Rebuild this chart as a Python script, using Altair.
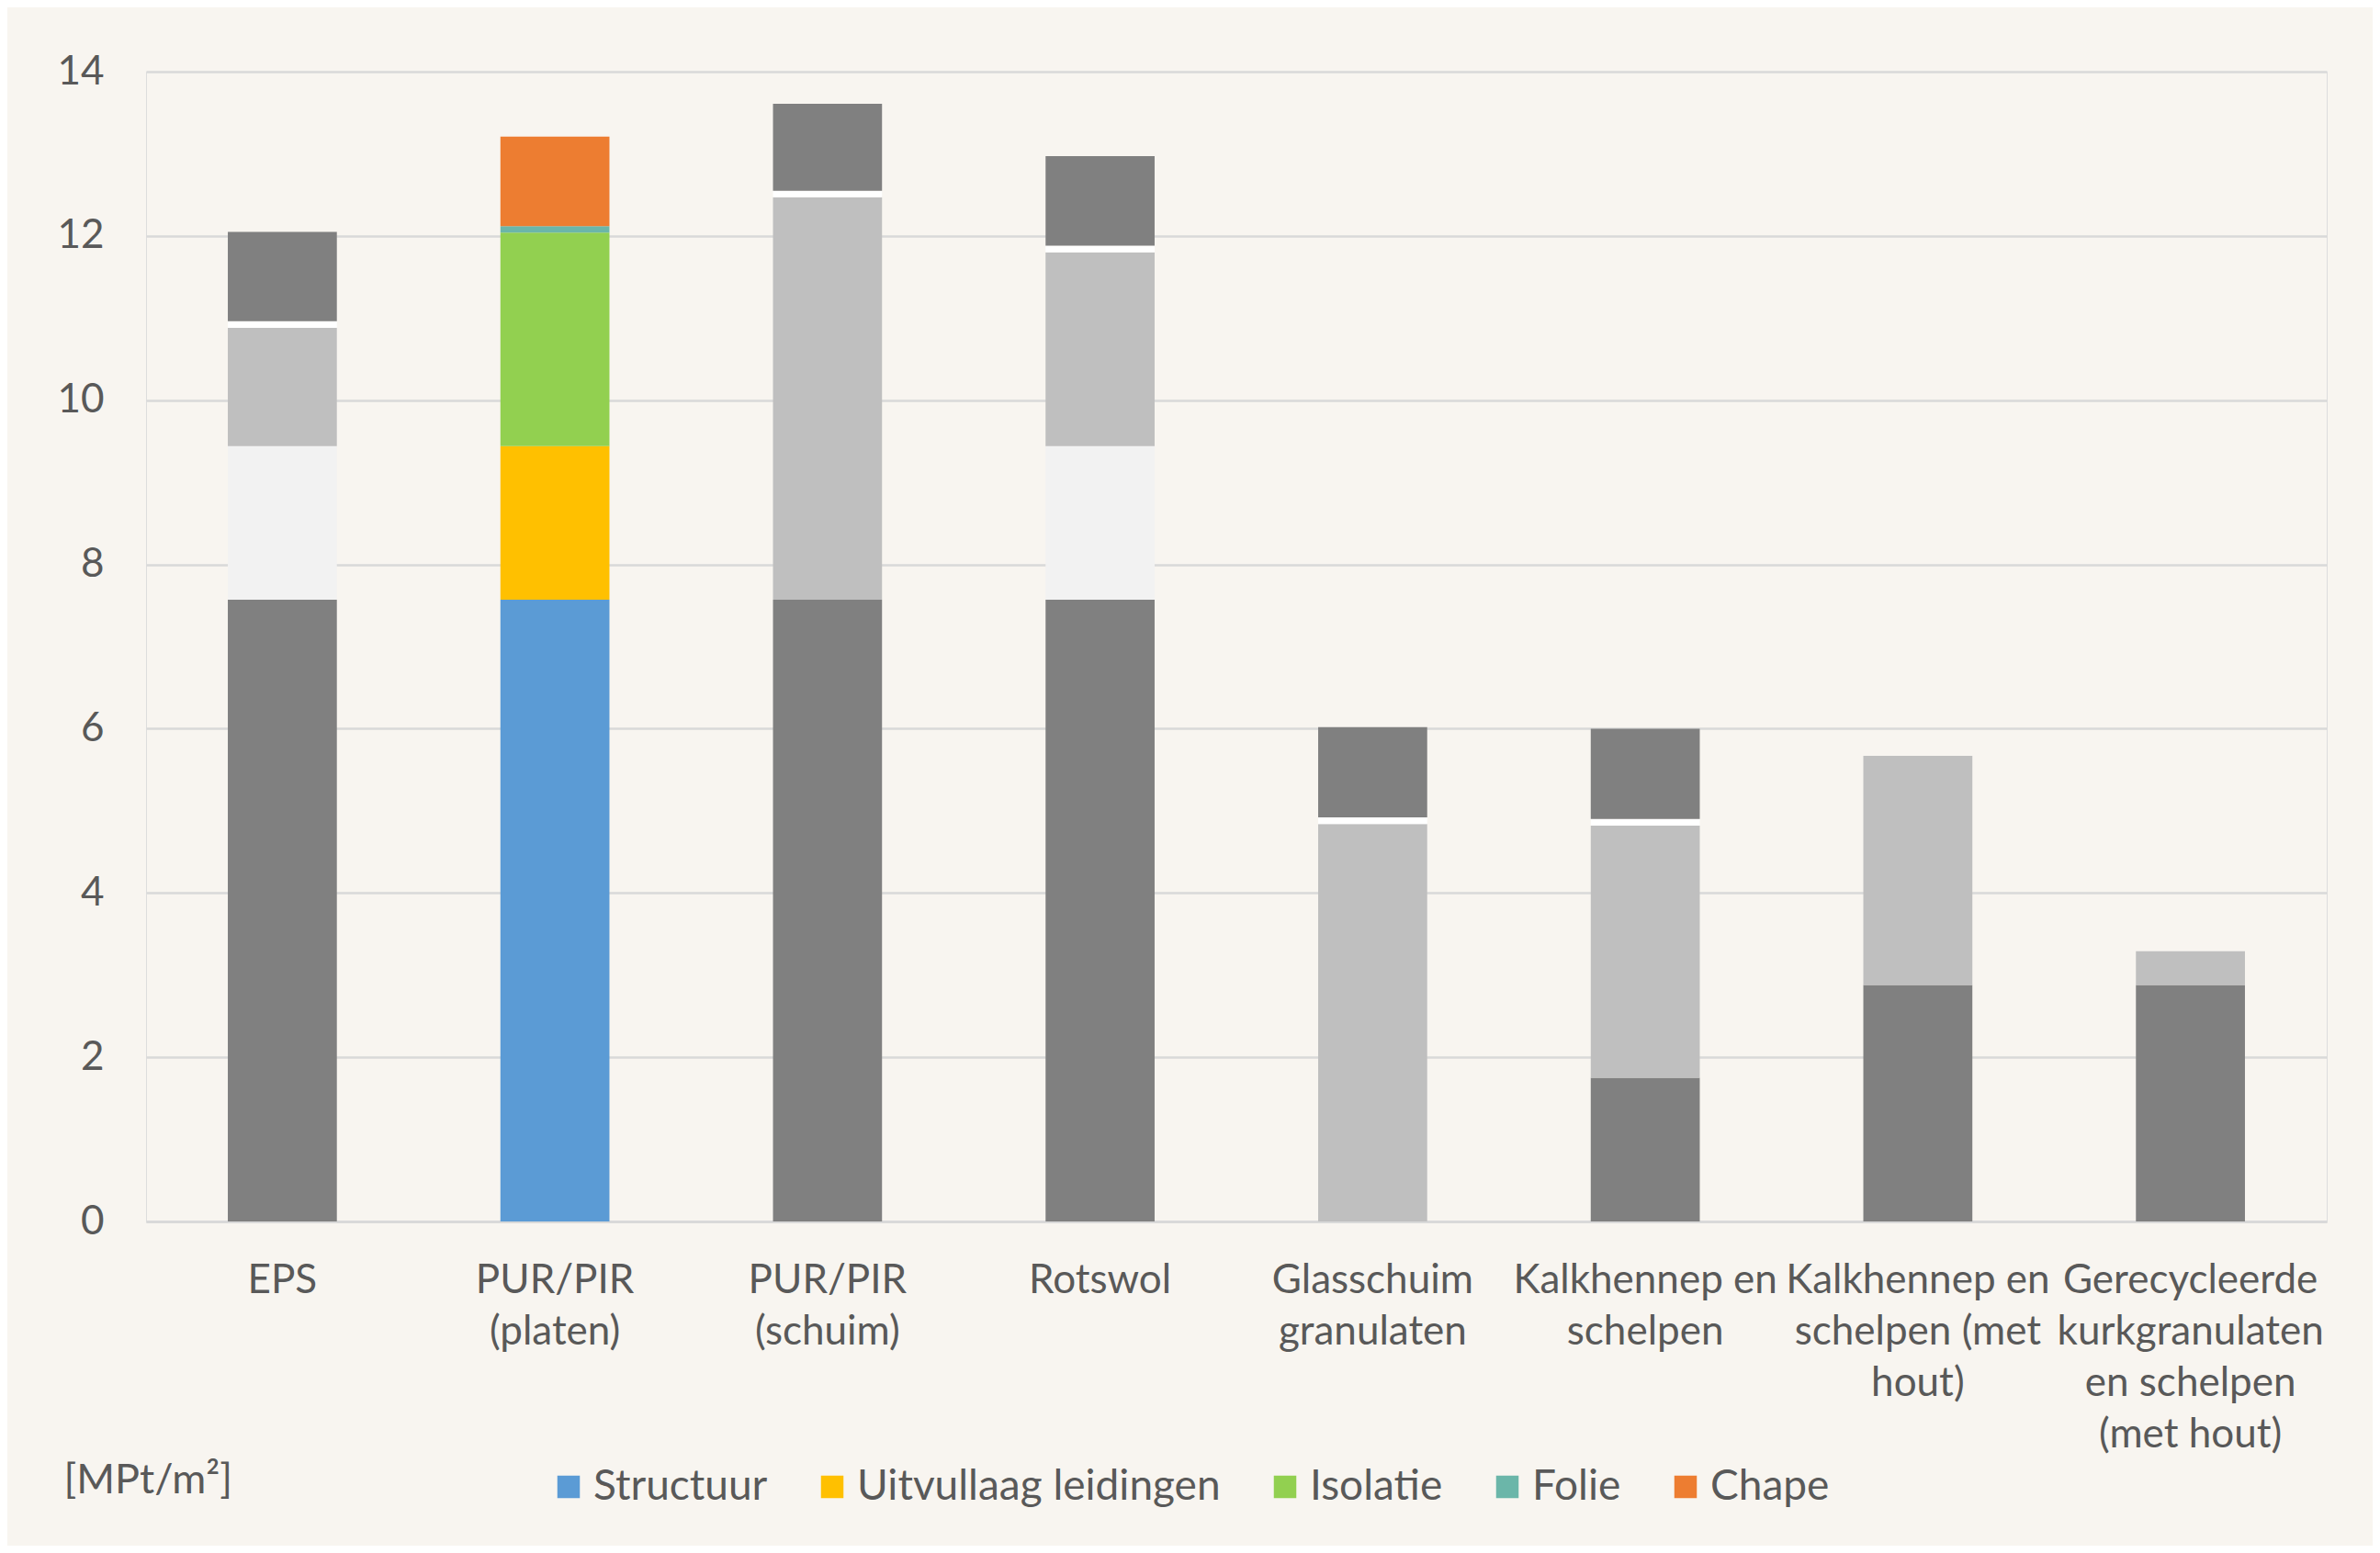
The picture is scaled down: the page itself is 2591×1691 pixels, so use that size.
import altair as alt
import pandas as pd

categories = [
    "EPS",
    "PUR/PIR\n(platen)",
    "PUR/PIR\n(schuim)",
    "Rotswol",
    "Glasschuim\ngranulaten",
    "Kalkhennep en\nschelpen",
    "Kalkhennep en\nschelpen (met\nhout)",
    "Gerecycleerde\nkurkgranulaten\nen schelpen\n(met hout)",
]
series = ["Structuur", "Uitvullaag leidingen", "Isolatie", "Folie", "Chape"]

structuur = [7.57, 7.57, 7.57, 7.57, 0.0, 1.75, 2.88, 2.88]
uitvullaag = [1.87, 1.87, 0.0, 1.87, 0.0, 0.0, 0.0, 0.0]
isolatie = [1.44, 2.60, 4.90, 2.36, 4.84, 3.07, 2.79, 0.41]
folie = [0.08, 0.08, 0.08, 0.08, 0.08, 0.08, 0.0, 0.0]
chape = [1.09, 1.09, 1.06, 1.09, 1.10, 1.10, 0.0, 0.0]

gray_colors = ["#808080", "#F2F2F2", "#BFBFBF", "#FFFFFF", "#808080"]
series_colors = ["#5B9BD5", "#FFC000", "#92D050", "#6BB6A9", "#ED7D31"]
highlight = "PUR/PIR\n(platen)"

values = [structuur, uitvullaag, isolatie, folie, chape]
rows = []
for si, s in enumerate(series):
    for ci, c in enumerate(categories):
        v = values[si][ci]
        if v > 0:
            rows.append({"cat": c, "series": s, "value": v, "order": si,
                         "gray": gray_colors[si]})
df = pd.DataFrame(rows)

FONT = "Lato"
TXT = "#595959"

x_enc = alt.X(
    "cat:N",
    sort=categories,
    title=None,
    scale=alt.Scale(paddingInner=0.6, paddingOuter=0.3),
    axis=alt.Axis(
        labelExpr="split(datum.label, '\\n')",
        labelAngle=0,
        labelFontSize=44,
        labelLineHeight=56,
        labelColor=TXT,
        labelFont=FONT,
        labelBaseline="top",
        labelPadding=42,
        labelLimit=1000,
        labelOverlap=False,
        labelFlush=False,
        ticks=False,
        domainColor="#D9D9D9",
        domainWidth=3,
    ),
)
y_enc = alt.Y(
    "value:Q",
    stack="zero",
    scale=alt.Scale(domain=[0, 14], nice=False),
    axis=alt.Axis(
        values=[0, 2, 4, 6, 8, 10, 12, 14],
        title="[MPt/m²]",
        titleAngle=0,
        titleAlign="left",
        titleBaseline="middle",
        titleX=-90,
        titleY=1533,
        titleFontSize=45,
        titleFontWeight="normal",
        titleColor=TXT,
        titleFont=FONT,
        labelFontSize=44,
        labelColor=TXT,
        labelFont=FONT,
        labelPadding=46,
        domain=False,
        ticks=False,
        gridColor="#D9D9D9",
        gridWidth=2.5,
    ),
)

gray_bars = alt.Chart(df).transform_filter(
    alt.datum.cat != highlight
).mark_bar(strokeWidth=0).encode(
    x=x_enc,
    y=y_enc,
    color=alt.Color("gray:N", scale=None, legend=None),
    order=alt.Order("order:Q", sort="ascending"),
)

color_bars = alt.Chart(df).transform_filter(
    alt.datum.cat == highlight
).mark_bar(strokeWidth=0).encode(
    x=x_enc,
    y=y_enc,
    color=alt.Color(
        "series:N",
        sort=series,
        scale=alt.Scale(domain=series, range=series_colors),
        legend=alt.Legend(
            title=None,
            orient="none",
            legendX=437,
            legendY=1518,
            direction="horizontal",
            symbolType="square",
            symbolSize=600,
            symbolStrokeWidth=0,
            labelFontSize=46,
            labelColor=TXT,
            labelFont=FONT,
            labelOffset=4,
            labelLimit=1000,
            columnPadding=47,
        ),
    ),
    order=alt.Order("order:Q", sort="ascending"),
)

chart = alt.layer(gray_bars, color_bars).resolve_scale(
    color="independent"
).properties(
    width=2374,
    height=1252,
    background="#F8F5F0",
    padding={"left": 151, "top": 70, "right": 50, "bottom": 353},
    autosize=alt.AutoSizeParams(type="none"),
).configure_view(stroke=None).configure(font=FONT)

chart.save("out.html", embed_options={"renderer": "svg", "actions": False})
